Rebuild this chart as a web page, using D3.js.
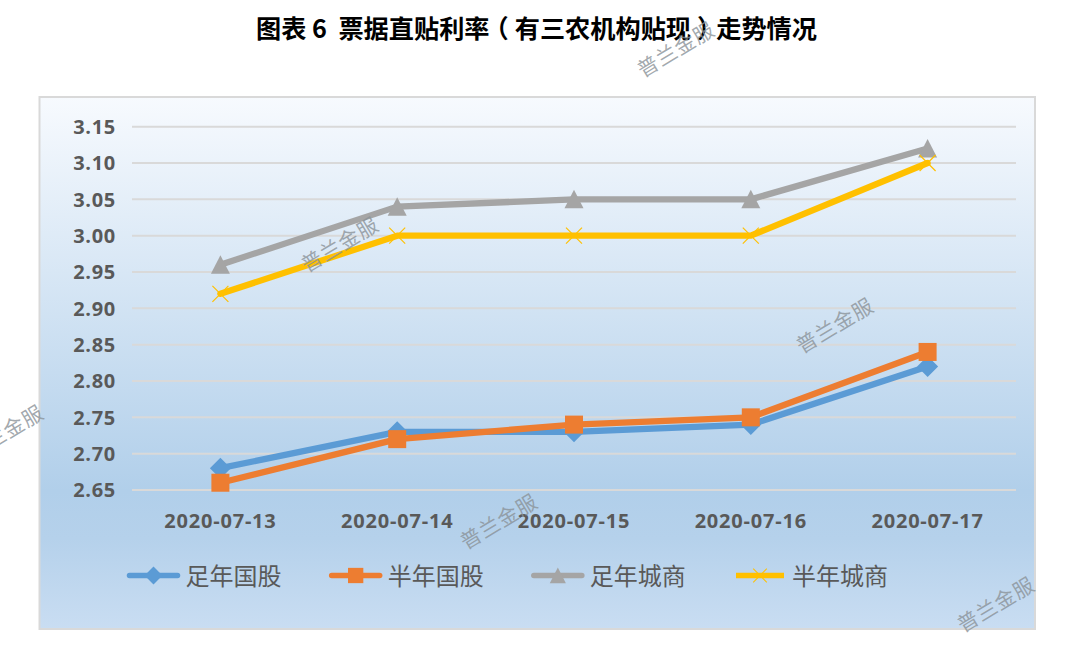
<!DOCTYPE html>
<html><head><meta charset="utf-8">
<script src="https://cdnjs.cloudflare.com/ajax/libs/d3/7.8.5/d3.min.js"></script>
<style>html,body{margin:0;padding:0;background:#fff}svg{display:block}</style>
</head><body><svg id="c" width="1072" height="649"></svg>
<script>
const dates = ["2020-07-13","2020-07-14","2020-07-15","2020-07-16","2020-07-17"];
const ticks = [2.65,2.70,2.75,2.80,2.85,2.90,2.95,3.00,3.05,3.10,3.15];
const zuNianGuoGu = [2.68,2.73,2.73,2.74,2.82];
const banNianGuoGu = [2.66,2.72,2.74,2.75,2.84];
const zuNianChengShang = [2.96,3.04,3.05,3.05,3.12];
const banNianChengShang = [2.92,3.00,3.00,3.00,3.10];
const seriesNames = ["足年国股","半年国股","足年城商","半年城商"];
const seriesColors = ["#5b9bd5","#ed7d31","#a5a5a5","#ffc000"];
const seriesSymbols = ["diamond","square","triangle","x"];
const titleParts = ["图表 6  票据直贴利率","（","有三农机构贴现","）","走势情况"];
const titleShifts = [0,-6,6,6,-6];
const watermark = "普兰金服";
const watermarkSpots = [[677,51],[341,246],[836,327],[6,434],[500,523],[997,606]];

const FONT = "'Noto Sans CJK SC','Noto Sans',sans-serif";
const NUM = "'Open Sans',sans-serif";
const svg = d3.select("#c");
const defs = svg.append("defs");
const g = defs.append("linearGradient").attr("id","bg").attr("x1",0).attr("y1",0).attr("x2",0).attr("y2",1);
[[0,"#f7fafe"],[0.74,"#b1cfea"],[0.83,"#b5d1eb"],[1,"#c9ddf2"]].forEach(d=>g.append("stop").attr("offset",d[0]).attr("stop-color",d[1]));

svg.append("rect").attr("x",39.5).attr("y",97).attr("width",995.5).attr("height",532)
  .attr("fill","url(#bg)").attr("stroke","#d9d9d9").attr("stroke-width",2);

const t = svg.append("text").attr("x",536.5).attr("y",38).attr("text-anchor","middle")
  .attr("font-family",FONT).attr("font-weight",700).attr("font-size",25.2).attr("fill","#000")
  .attr("xml:space","preserve").style("white-space","pre");
titleParts.forEach((s,i)=>{
  t.append("tspan").attr("dx",titleShifts[i]).text(s);
});

const x = d3.scaleBand().domain(dates).range([132,1016]);
const y = d3.scaleLinear().domain([2.65,3.15]).range([490,126.7]);

const yAxis = svg.append("g").attr("transform","translate(132,0)")
  .call(d3.axisLeft(y).offset(0).tickValues(ticks).tickFormat(d3.format(".2f")).tickSize(-884).tickPadding(16));
yAxis.select(".domain").remove();
yAxis.selectAll("line").attr("stroke","#d9d9d9").attr("stroke-width",2);
yAxis.selectAll("text").attr("font-family",NUM).attr("font-weight",700).attr("font-size",20).attr("letter-spacing",0.7).attr("fill","#595959").attr("y",0.8);

const xAxis = svg.append("g").attr("transform","translate(0,490)")
  .call(d3.axisBottom(x).offset(0).tickSize(0).tickPadding(24));
xAxis.select(".domain").remove();
xAxis.selectAll("text").attr("font-family",NUM).attr("font-weight",700).attr("font-size",20).attr("letter-spacing",0.8).attr("fill","#595959");

const line = d3.line().x((d,i)=>x(dates[i])+x.bandwidth()/2).y(d=>y(d));
const allValues = [zuNianGuoGu,banNianGuoGu,zuNianChengShang,banNianChengShang];

function marker(sel,kind,color){
  if(kind==="diamond") sel.append("path").attr("d","M0,-10.5L10.5,0L0,10.5L-10.5,0Z").attr("fill",color);
  if(kind==="square") sel.append("rect").attr("x",-9).attr("y",-9).attr("width",18).attr("height",18).attr("fill",color);
  if(kind==="triangle") sel.append("path").attr("d","M0,-9.5L9.5,9L-9.5,9Z").attr("fill",color);
  if(kind==="x") sel.append("path").attr("d","M-8,-8L8,8M-8,8L8,-8").attr("stroke",color).attr("stroke-width",1.2).attr("fill","none");
}

allValues.forEach((vals,k)=>{
  svg.append("path").attr("d",line(vals)).attr("fill","none").attr("stroke",seriesColors[k])
    .attr("stroke-width",6.3).attr("stroke-linecap","round").attr("stroke-linejoin","round");
  vals.forEach((v,i)=>{
    marker(svg.append("g").attr("transform",`translate(${x(dates[i])+x.bandwidth()/2},${y(v)})`),seriesSymbols[k],seriesColors[k]);
  });
});

const legendCenter = d3.scalePoint().domain(seriesNames).range([153.5,760]);
seriesNames.forEach((name,k)=>{
  const cx = legendCenter(name);
  const gg = svg.append("g").attr("transform",`translate(${cx},575.5)`);
  gg.append("line").attr("x1",-24).attr("x2",24).attr("stroke",seriesColors[k]).attr("stroke-width",5.5)
    .attr("stroke-linecap",k===3?"butt":"round");
  const mg = gg.append("g").attr("transform","scale(0.85)");
  marker(mg,seriesSymbols[k],seriesColors[k]);
  gg.append("text").attr("x",32).attr("y",9).attr("font-family",FONT).attr("font-size",24).attr("fill","#595959").text(name);
});

watermarkSpots.forEach(p=>{
  svg.append("text").attr("transform",`translate(${p[0]},${p[1]}) rotate(-31)`).attr("text-anchor","middle")
    .attr("dominant-baseline","middle").attr("font-family",FONT).attr("font-size",20.5).attr("letter-spacing",1)
    .attr("fill","#8a9298").attr("fill-opacity",0.8).text(watermark);
});
</script></body></html>
